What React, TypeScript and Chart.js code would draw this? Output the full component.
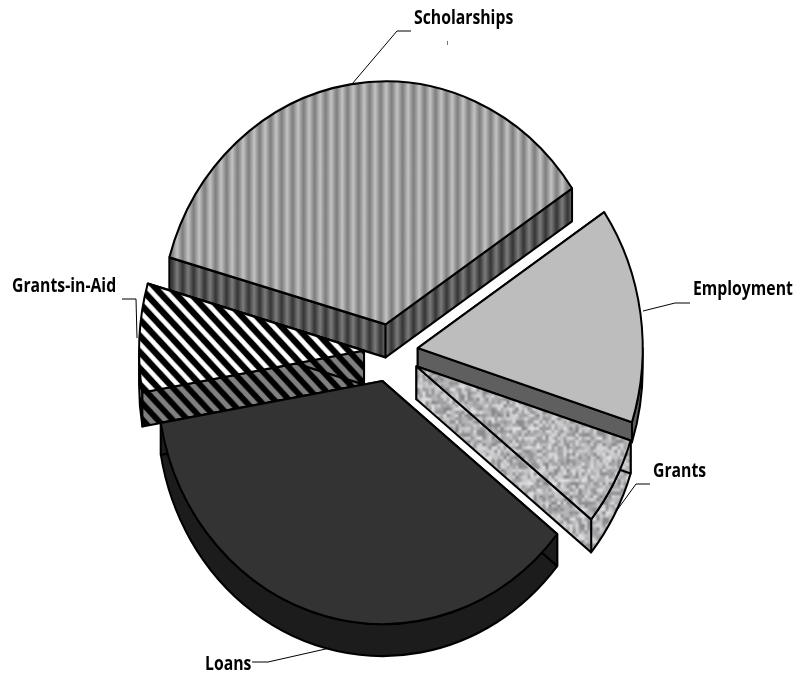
import React, { useEffect, useRef } from "react";
import { Chart, registerables } from "chart.js";

Chart.register(...registerables);

const categories = ["Scholarships", "Employment", "Grants", "Loans", "Grants-in-Aid"];
const shares = [36.1, 14.4, 5.9, 36.4, 7.2];
const drawOrder = [0, 1, 2, 4, 3];
const explode = [28, 28, 30, 30, 26];
const depths = [33, 20, 33, 32, 34];
const labelSpots = [
  [414, 24],
  [693, 295],
  [653, 477],
  [205, 670],
  [12, 292],
];
const leaders = [
  [[411, 31], [397, 31], [352, 84]],
  [[690, 303], [675, 303], [643, 311]],
  [[650, 484], [636, 484], [615, 513]],
  [[252, 662], [268, 662], [330, 648]],
  [[122, 299], [136, 299], [137, 338]],
];
const stretchY = 1.08;

function mk(w: number, h: number) {
  const c = document.createElement("canvas");
  c.width = w;
  c.height = h;
  return c;
}

function stripePattern(light: string, dark: string) {
  const c = mk(11, 4);
  const x = c.getContext("2d")!;
  const g = x.createLinearGradient(0, 0, 11, 0);
  g.addColorStop(0, dark);
  g.addColorStop(0.5, light);
  g.addColorStop(1, dark);
  x.fillStyle = g;
  x.fillRect(0, 0, 11, 4);
  return x.createPattern(c, "repeat")!;
}

function hatchPattern(back: string, line: string, lw: number) {
  const s = 15;
  const c = mk(s, s);
  const x = c.getContext("2d")!;
  x.fillStyle = back;
  x.fillRect(0, 0, s, s);
  x.strokeStyle = line;
  x.lineWidth = lw;
  for (const o of [-s, 0, s]) {
    x.beginPath();
    x.moveTo(o - 2, -2);
    x.lineTo(o + s + 2, s + 2);
    x.stroke();
  }
  return x.createPattern(c, "repeat")!;
}

function noisePattern() {
  const n = 40;
  const low = mk(n, n);
  const lx = low.getContext("2d")!;
  const img = lx.createImageData(n, n);
  let h = 12345;
  for (let i = 0; i < n * n; i++) {
    h = (h * 1103515245 + 12345) & 0x7fffffff;
    const v = 130 + ((h >> 16) % 100);
    img.data[i * 4] = v;
    img.data[i * 4 + 1] = v;
    img.data[i * 4 + 2] = v + 3;
    img.data[i * 4 + 3] = 255;
  }
  lx.putImageData(img, 0, 0);
  const c = mk(n * 3, n * 3);
  const x = c.getContext("2d")!;
  x.imageSmoothingEnabled = true;
  x.drawImage(low, 0, 0, n * 3, n * 3);
  return x.createPattern(c, "repeat")!;
}

export default function App() {
  const ref = useRef<HTMLCanvasElement | null>(null);

  useEffect(() => {
    const tops = [
      stripePattern("#c4c4c4", "#7c7c7c"),
      "#bdbdbd",
      noisePattern(),
      "#333333",
      hatchPattern("#000000", "#ffffff", 4.5),
    ];
    const sides = [
      stripePattern("#7c7c7c", "#333333"),
      "#5f5f5f",
      noisePattern(),
      "#1c1c1c",
      hatchPattern("#000000", "#808080", 5),
    ];

    const drawSide = (ctx: CanvasRenderingContext2D, arc: any, i: number, d: number) => {
      const { x, y, startAngle: a0, endAngle: a1, outerRadius: r } = arc;
      ctx.fillStyle = sides[i] as any;
      ctx.strokeStyle = "#000";
      ctx.lineWidth = 2;
      ctx.lineJoin = "round";
      for (let n = -1; n <= 2; n++) {
        const lo = Math.max(a0, n * 2 * Math.PI);
        const hi = Math.min(a1, n * 2 * Math.PI + Math.PI);
        if (hi > lo) {
          ctx.beginPath();
          ctx.arc(x, y, r, lo, hi);
          ctx.arc(x, y + d, r, hi, lo, true);
          ctx.closePath();
          ctx.fill();
          ctx.stroke();
        }
      }
      for (const a of [a0, a1]) {
        const tx = x + Math.cos(a) * r;
        const ty = y + Math.sin(a) * r;
        ctx.beginPath();
        ctx.moveTo(x, y);
        ctx.lineTo(tx, ty);
        ctx.lineTo(tx, ty + d);
        ctx.lineTo(x, y + d);
        ctx.closePath();
        ctx.fill();
        ctx.stroke();
      }
    };

    const pie3d = {
      id: "pie3d",
      beforeDatasetsDraw(chart: any) {
        const ctx: CanvasRenderingContext2D = chart.ctx;
        const arcs = chart.getDatasetMeta(0).data;
        for (const i of drawOrder) {
          const arc = arcs[i];
          const mid = (arc.startAngle + arc.endAngle) / 2;
          ctx.save();
          ctx.translate(Math.cos(mid) * explode[i], Math.sin(mid) * explode[i]);
          ctx.translate(arc.x, arc.y);
          ctx.scale(1, stretchY);
          ctx.translate(-arc.x, -arc.y);
          drawSide(ctx, arc, i, depths[i] / stretchY);
          arc.draw(ctx);
          ctx.restore();
        }
        return false;
      },
      afterDraw(chart: any) {
        const ctx: CanvasRenderingContext2D = chart.ctx;
        ctx.save();
        ctx.strokeStyle = "#000";
        ctx.lineWidth = 1;
        for (const pts of leaders) {
          ctx.beginPath();
          pts.forEach((p, k) => (k ? ctx.lineTo(p[0], p[1]) : ctx.moveTo(p[0], p[1])));
          ctx.stroke();
        }
        ctx.beginPath();
        ctx.strokeStyle = "#777";
        ctx.moveTo(447.5, 41);
        ctx.lineTo(447.5, 45);
        ctx.stroke();
        ctx.fillStyle = "#000";
        ctx.font = 'bold 19px "Open Sans"';
        ctx.textBaseline = "alphabetic";
        categories.forEach((t, i) => {
          ctx.save();
          ctx.translate(labelSpots[i][0], labelSpots[i][1]);
          ctx.scale(0.83, 1);
          ctx.fillText(t, 0, 0);
          ctx.restore();
        });
        ctx.restore();
      },
    };

    const chart = new Chart(ref.current!, {
      type: "pie",
      data: {
        labels: categories,
        datasets: [
          {
            data: shares,
            backgroundColor: tops as any,
            borderColor: "#000000",
            borderWidth: 2,
            radius: 225,
          } as any,
        ],
      },
      options: {
        responsive: false,
        animation: false,
        rotation: 286,
        layout: { padding: { left: 0, right: 32, top: 29, bottom: 0 } },
        plugins: { legend: { display: false }, tooltip: { enabled: false } },
      },
      plugins: [pie3d as any],
    });
    return () => chart.destroy();
  }, []);

  return (
    <canvas
      ref={ref}
      width={812}
      height={675}
      style={{ position: "absolute", left: 0, top: 0, display: "block" }}
    />
  );
}
